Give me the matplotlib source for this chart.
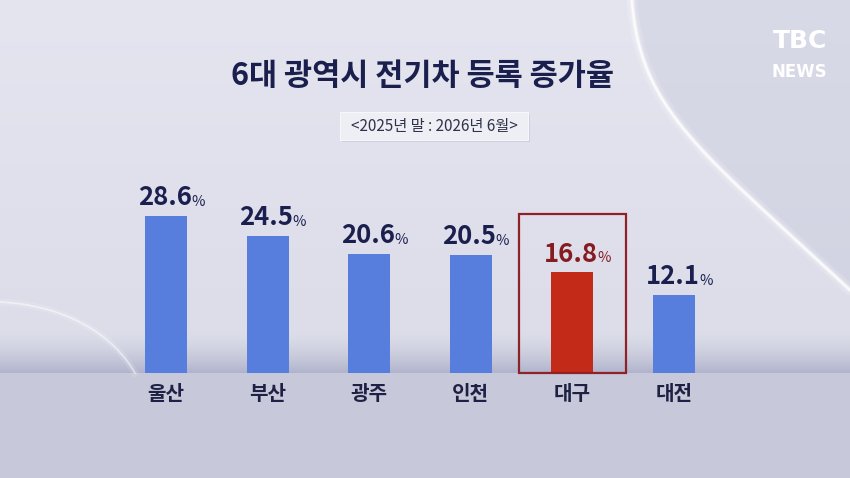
import numpy as np
import matplotlib.pyplot as plt
from matplotlib.patches import Rectangle, FancyBboxPatch

plt.rcParams['font.family'] = ['Noto Sans CJK KR', 'DejaVu Sans']

# data
cities = ['울산', '부산', '광주', '인천', '대구', '대전']
rates = [28.6, 24.5, 20.6, 20.5, 16.8, 12.1]
highlight = '대구'

title = '6대 광역시 전기차 등록 증가율'
subtitle = '<2025년 말 : 2026년 6월>'

W, H = 850, 478
BASE = -4.3  # bars start below zero in the original graphic

blue = '#577ddd'
red = '#c32a18'
navy = '#1b1f4e'
darkred = '#861c20'


def bezier(p0, p1, p2, p3, n=200):
    t = np.linspace(0, 1, n)[:, None]
    p = [np.array(q, float) for q in (p0, p1, p2, p3)]
    return ((1 - t) ** 3 * p[0] + 3 * (1 - t) ** 2 * t * p[1]
            + 3 * (1 - t) * t ** 2 * p[2] + t ** 3 * p[3])


fig = plt.figure(figsize=(W / 100, H / 100), dpi=100)

# background in pixel coordinates
bg = fig.add_axes([0, 0, 1, 1])
bg.set_xlim(0, W)
bg.set_ylim(H, 0)
bg.axis('off')

top = np.array([0xe4, 0xe5, 0xef]) / 255
mid = np.array([0xdc, 0xdd, 0xe9]) / 255
dark = np.array([0xaf, 0xb2, 0xcb]) / 255
band = np.array([0xc7, 0xc9, 0xda]) / 255
col = np.zeros((H, 1, 3))
for y in range(H):
    if y < 330:
        c = top + (mid - top) * y / 330
    elif y < 373:
        f = ((y - 330) / 43) ** 1.6
        c = mid + (dark - mid) * f
    else:
        c = band
    col[y, 0] = c
bg.imshow(np.repeat(col, W, axis=1), extent=(0, W, H, 0), aspect='auto', zorder=0)

# darker area right of the big curve
curve = bezier((632, 0), (640, 110), (700, 150), (850, 290))
poly = np.vstack([curve, [[850, 0]]])
bg.fill(poly[:, 0], poly[:, 1], color='#b8bad0', alpha=0.25, lw=0, zorder=1)
for lw, a in [(8, 0.15), (4, 0.3), (1.8, 0.8)]:
    bg.plot(curve[:, 0], curve[:, 1], color='white', lw=lw, alpha=a,
            solid_capstyle='round', zorder=2)
curve2 = bezier((0, 302), (60, 305), (110, 330), (135, 373))
for lw, a in [(5, 0.12), (1.3, 0.5)]:
    bg.plot(curve2[:, 0], curve2[:, 1], color='white', lw=lw, alpha=a, zorder=2)

# title and subtitle
bg.text(423, 76, title, ha='center', va='center', fontsize=22,
        fontweight='bold', color=navy, zorder=5)
bg.add_patch(FancyBboxPatch((342, 114), 188, 28, boxstyle='square,pad=0',
                            fc='#b9bbcf', ec='none', alpha=0.5, zorder=3))
bg.add_patch(FancyBboxPatch((340, 112), 188, 28, boxstyle='square,pad=0',
                            fc='#eeeff5', ec='#f7f7fb', lw=0.8, zorder=4))
bg.text(434, 126.5, subtitle, ha='center', va='center', fontsize=11,
        color='#30324a', zorder=5)

# logo
bg.text(800, 41, 'TBC', ha='center', va='center', fontsize=18,
        fontweight='bold', color='white', family=['DejaVu Sans'], zorder=5)
bg.text(799, 72, 'NEWS', ha='center', va='center', fontsize=12,
        fontweight='bold', color='white', family=['Liberation Sans Narrow', 'DejaVu Sans'],
        zorder=5)

# chart axes: baseline at y=373 px, ~4.77 px per unit
ax = fig.add_axes([115.2 / W, 105 / H, 609.6 / W, 173 / H])
ax.patch.set_alpha(0)
ax.set_xlim(-0.5, len(cities) - 0.5)
ax.set_ylim(BASE, BASE + 173 / 4.767)
ax.axis('off')

x = np.arange(len(cities))
colors = [red if c == highlight else blue for c in cities]
vals = np.array(rates)
ax.bar(x, vals - BASE, bottom=BASE, width=0.413, color=colors, zorder=3)

fig.canvas.draw()
for xi, v, c in zip(x, rates, cities):
    tc = darkred if c == highlight else navy
    num = ax.annotate(f'{v:.1f}', (xi, v), xytext=(-1, 3.5), textcoords='offset points',
                      ha='center', va='bottom', fontsize=18.5, fontweight='bold',
                      color=tc, zorder=5, annotation_clip=False)
    ax.annotate('%', (1, 0), xycoords=num, xytext=(-0.4, 1.6), textcoords='offset points',
                ha='left', va='bottom', fontsize=10.5, color=tc, zorder=5)
    ax.annotate(c, (xi, BASE), xytext=(0, -15), textcoords='offset points',
                ha='center', va='center', fontsize=14.5, fontweight='bold',
                color='#1e2143', annotation_clip=False)

# highlight frame around Daegu
hi = cities.index(highlight)
ax.add_patch(Rectangle((hi - 0.527, BASE), 1.054, rates[hi] + 12.2 - BASE,
                       fill=False, ec='#8e2226', lw=1.6, clip_on=False, zorder=4))

fig.savefig('out.png', dpi=100)
